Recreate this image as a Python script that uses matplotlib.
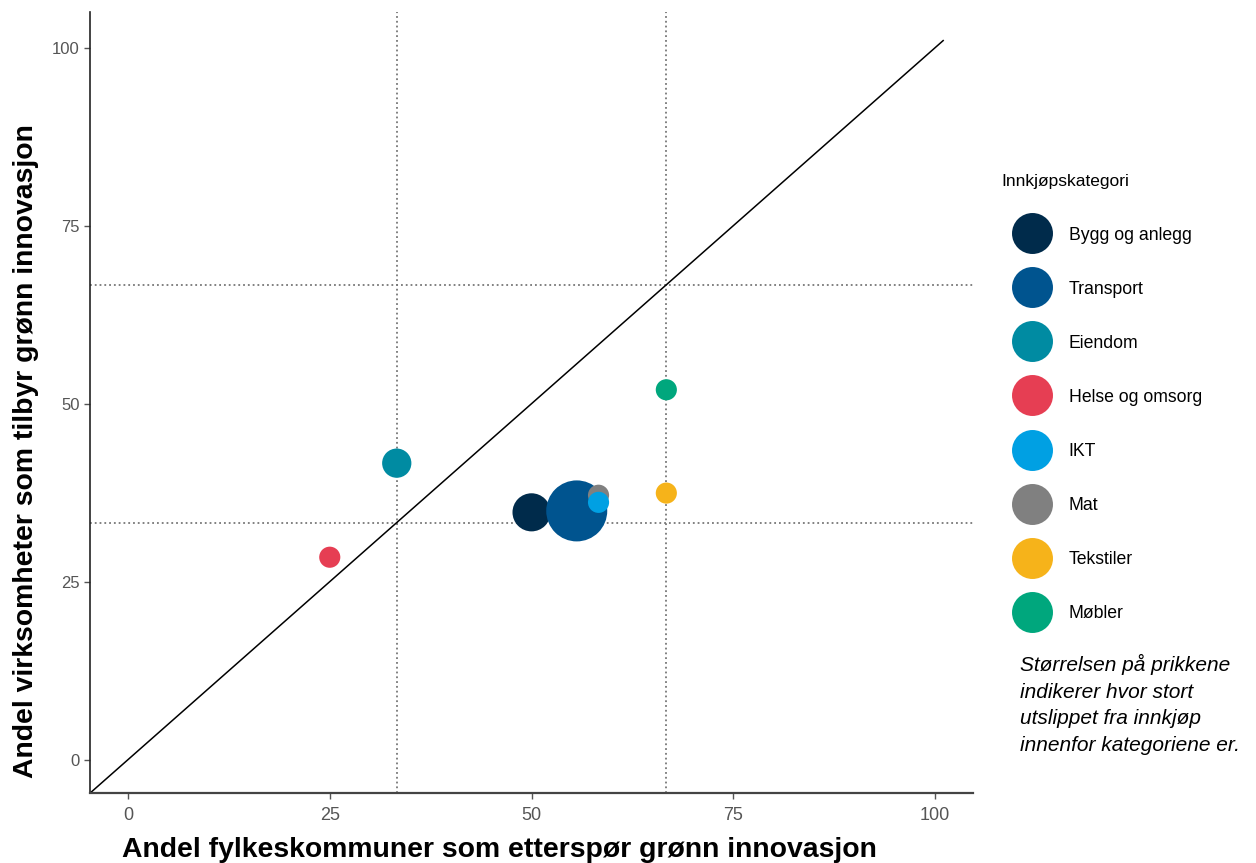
import matplotlib
matplotlib.use("Agg")
import matplotlib.pyplot as plt
from matplotlib.lines import Line2D

plt.rcParams['font.family'] = ['Liberation Sans', 'DejaVu Sans']

# data
kategorier = ['Bygg og anlegg', 'Transport', 'Eiendom', 'Helse og omsorg',
              'IKT', 'Mat', 'Tekstiler', 'Møbler']
farger = ['#002B4B', '#00548F', '#008BA2', '#E63E53',
          '#00A0E3', '#808080', '#F6B31A', '#00A77D']
etterspor = [50.0, 55.6, 33.3, 25.0, 58.3, 58.3, 66.7, 66.7]   # x
tilbyr = [34.8, 35.0, 41.7, 28.5, 36.2, 37.2, 37.5, 52.0]      # y
utslipp = [39, 100, 23, 12, 12, 12, 12, 12]                    # relativ storrelse
tegneorden = [0, 1, 2, 3, 5, 4, 6, 7]

fig = plt.figure(figsize=(12.56, 8.63), dpi=100)
ax = fig.add_axes([0.0717, 0.081, 0.703, 0.905])

# referanselinjer
for v in (100 / 3, 200 / 3):
    ax.axvline(v, color='#777777', linestyle=':', linewidth=1.3, zorder=1)
    ax.axhline(v, color='#777777', linestyle=':', linewidth=1.3, zorder=1)
ax.plot([-4.7, 101], [-4.6, 101], color='black', linewidth=1.1, zorder=2)

for i in tegneorden:
    ax.scatter(etterspor[i], tilbyr[i], s=utslipp[i] * 19.3, color=farger[i],
               edgecolors='none', zorder=3)

ax.set_xlim(-4.7, 104.7)
ax.set_ylim(-4.6, 105)
ax.set_xticks([0, 25, 50, 75, 100])
ax.set_yticks([0, 25, 50, 75, 100])
ax.tick_params(colors='#555555', length=4, width=1)
ax.tick_params(axis='x', labelsize=13, pad=6)
ax.tick_params(axis='y', labelsize=12)
for side in ('top', 'right'):
    ax.spines[side].set_visible(False)
ax.spines['left'].set_color('#222222')
ax.spines['bottom'].set_color('#444444')
ax.spines['left'].set_linewidth(1.2)
ax.spines['bottom'].set_linewidth(1.6)

ax.set_xlabel('Andel fylkeskommuner som etterspør grønn innovasjon',
              fontsize=20.4, fontweight='bold')
ax.set_ylabel('Andel virksomheter som tilbyr grønn innovasjon',
              fontsize=20.4, fontweight='bold')
ax.xaxis.set_label_coords(0.464, -0.056)
ax.yaxis.set_label_coords(-0.058, 0.438)

handles = [Line2D([], [], marker='o', linestyle='none', markersize=29.5,
                  markerfacecolor=c, markeredgecolor='none') for c in farger]
leg = fig.legend(handles, kategorier, title='Innkjøpskategori',
                 loc='upper left', bbox_to_anchor=(0.792, 0.806),
                 frameon=False, fontsize=12.7, title_fontsize=12.5,
                 labelspacing=2.10, handlelength=3.4, handletextpad=0.4,
                 borderaxespad=0)
leg._legend_box.align = 'left'

fig.text(0.812, 0.242,
         'Størrelsen på prikkene\nindikerer hvor stort\nutslippet fra innkjøp\n'
         'innenfor kategoriene er.',
         fontsize=15, style='italic', ha='left', va='top', linespacing=1.5)

fig.savefig('out.png', dpi=100)
